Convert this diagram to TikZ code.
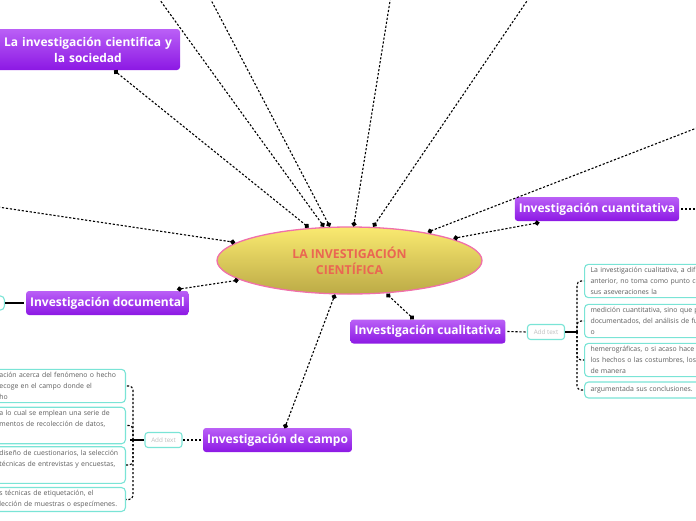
\documentclass[tikz,border=0pt]{standalone}
\usepackage{fontspec}
\setmainfont{Open Sans}
\usetikzlibrary{arrows.meta,shapes.geometric}
\definecolor{topicTop}{RGB}{186,96,246}
\definecolor{topicBot}{RGB}{140,24,228}
\definecolor{centralTop}{RGB}{250,234,112}
\definecolor{centralBot}{RGB}{188,170,70}
\definecolor{centralLine}{RGB}{240,112,170}
\definecolor{centralText}{RGB}{234,102,82}
\definecolor{noteLine}{RGB}{122,228,214}
\definecolor{noteText}{RGB}{95,95,95}
\definecolor{addGray}{RGB}{190,190,190}
\begin{document}
\begin{tikzpicture}[x=1pt,y=-1pt,
  central/.style={ellipse, draw=centralLine, line width=1.3pt, top color=centralTop, bottom color=centralBot,
    text=centralText, font=\fontsize{12.3}{16}\selectfont\bfseries, align=center, inner sep=0pt,
    minimum width=265pt, minimum height=67pt, outer sep=3pt},
  topic/.style={rounded corners=3pt, top color=topicTop, bottom color=topicBot, text=white,
    font=\fontsize{12}{16}\selectfont\bfseries, align=center, inner xsep=4pt, minimum height=24pt, outer sep=2pt},
  note/.style={draw=noteLine, line width=1.1pt, fill=white, rounded corners=4pt, text=noteText,
    font=\fontsize{6.9}{11}\selectfont, align=left, inner xsep=6pt, inner ysep=3pt, minimum height=16pt},
  addbox/.style={draw=noteLine, line width=1.1pt, fill=white, rounded corners=3pt, text=addGray,
    font=\fontsize{6.3}{8}\selectfont, minimum width=37pt, minimum height=15pt, inner sep=2pt},
  link/.style={line width=1.1pt, dash pattern=on 2.2pt off 1.8pt},
  dotlink/.style={link, {Circle[length=5pt]}-{Circle[length=5pt]}, shorten <=-2.5pt, shorten >=-2.5pt},
  halflink/.style={link, -{Circle[length=5pt]}, shorten >=-2.5pt},
  solidlink/.style={line width=1.4pt}]
\useasboundingbox (0,0) rectangle (696,520);
\clip (0,0) rectangle (696,520);

\node[central] (main) at (349.5,260.5) {LA INVESTIGACIÓN\\CIENTÍFICA};

\node[topic, text width=176pt, minimum height=41pt] (soc) at (88,49.5) {La investigación cientifica y\\la sociedad};
\node[topic] (cuant) at (597,209) {Investigación cuantitativa};
\node[topic] (cual) at (428,331.5) {Investigación cualitativa};
\node[topic] (doc) at (107.5,303) {Investigación documental};
\node[topic] (campo) at (277.5,440) {Investigación de campo};

\coordinate (t1) at (158.5,-2);
\coordinate (t2) at (210,-2);
\coordinate (t3) at (390.5,-2);
\coordinate (t4) at (529,-2);
\coordinate (left) at (-2,207);
\coordinate (right) at (698,127.5);
\coordinate (cuantout) at (698,209);

\draw[halflink] (t1) -- (main.127.5);
\draw[halflink] (t2) -- (main.120);
\draw[halflink] (t3) -- (main.83);
\draw[halflink] (t4) -- (main.55.4);
\draw[halflink] (left) -- (main.171.1);
\draw[halflink] (right) -- (main.20.4);
\draw[dotlink] ([xshift=28pt]soc.south) -- (main.141.6);
\draw[dotlink] ([xshift=-60pt]cuant.south) -- (main.12.2);
\draw[dotlink] ([xshift=72pt]doc.north) -- (main.190.2);
\draw[dotlink] ([xshift=8pt]campo.north) -- (main.247.5);
\draw[dotlink] ([xshift=-16pt]cual.north) -- (main.318);
\draw[link] (cuant.east) -- (cuantout);

\node[addbox] (cualadd) at (546,332) {Add text};
\draw[link] (cual.east) -- (cualadd.west);
\node[note, text width=200pt, anchor=west] (rb1) at (584,281) {La investigación cualitativa, a dif\\anterior, no toma como punto ce\\sus aseveraciones la};
\node[note, text width=200pt, anchor=west] (rb2) at (584,321) {medición cuantitativa, sino que p\\documentados, del análisis de fu\\o};
\node[note, text width=200pt, anchor=west] (rb3) at (584,360) {hemerográficas, o si acaso hace\\los hechos o las costumbres, los\\de manera};
\node[note, text width=200pt, anchor=west] (rb4) at (584,390) {argumentada sus conclusiones.};
\coordinate (rtrunk) at (577,332);
\draw[solidlink] (cualadd.east) -- ([xshift=1pt]rtrunk);
\draw[link, rounded corners=4pt] (rtrunk) |- (rb1.west);
\draw[link, rounded corners=4pt] (rtrunk) |- (rb2.west);
\draw[link, rounded corners=4pt] (rtrunk) |- (rb3.west);
\draw[link, rounded corners=4pt] (rtrunk) |- (rb4.west);

\node[addbox] (campoadd) at (163.5,440) {Add text};
\draw[link] (campo.west) -- (campoadd.east);
\node[note, text width=122pt, inner xsep=4pt, anchor=east] (lb1) at (126,386) {ación acerca del fenómeno o hecho\\ecoge en el campo donde el\\ho};
\node[note, text width=122pt, inner xsep=4pt, anchor=east] (lb2) at (126,425.5) {a lo cual se emplean una serie de\\mentos de recolección de datos,\\\strut};
\node[note, text width=122pt, inner xsep=4pt, anchor=east] (lb3) at (126,465) {diseño de cuestionarios, la selección\\ técnicas de entrevistas y encuestas,\\\strut};
\node[note, text width=122pt, inner xsep=4pt, anchor=east] (lb4) at (126,499.5) {s técnicas de etiquetación, el\\lección de muestras o especímenes.};
\coordinate (ltrunk) at (133,440);
\draw[solidlink] ([xshift=-3pt]ltrunk) -- (campoadd.west);
\draw[link, rounded corners=4pt] (ltrunk) |- (lb1.east);
\draw[link, rounded corners=4pt] (ltrunk) |- (lb2.east);
\draw[link, rounded corners=4pt] (ltrunk) |- (lb3.east);
\draw[link, rounded corners=4pt] (ltrunk) |- (lb4.east);

\node[note, anchor=east, minimum width=34pt, minimum height=14pt] (docnote) at (5,303) {};
\draw[solidlink] (docnote.east) -- (doc.west);
\end{tikzpicture}
\end{document}
